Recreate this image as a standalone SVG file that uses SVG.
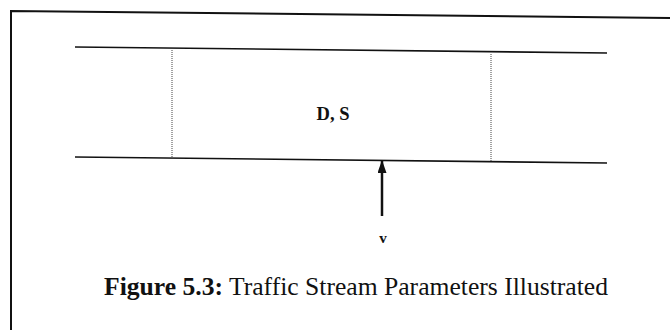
<svg xmlns="http://www.w3.org/2000/svg" width="670" height="330" viewBox="0 0 670 330">
<style>
.frame{fill:none;stroke:#111;stroke-width:2}
.road{stroke:#111;stroke-width:1.6;fill:none}
.dot{stroke:#444;stroke-width:1;stroke-dasharray:1 1;fill:none}
.t{font-family:'Liberation Serif','Times New Roman',Times,serif;fill:#111}
</style>
<defs>
<marker id="ah" markerWidth="13" markerHeight="9" refX="12" refY="4.5" orient="auto" markerUnits="userSpaceOnUse" viewBox="0 0 13 9">
<path d="M0,0 L13,4.5 L0,9 Z" fill="#111"/>
</marker>
</defs>
<rect width="670" height="330" fill="#fff"/>
<g id="frame">
<path class="frame" d="M11,340 L11,11 L670,18"/>
</g>
<g id="road">
<line class="road" x1="75" y1="47" x2="607" y2="53"/>
<line class="road" x1="75" y1="157" x2="607" y2="163"/>
<line class="dot" x1="172" y1="50" x2="172" y2="157"/>
<line class="dot" x1="491" y1="54" x2="491" y2="161"/>
<text class="t" x="333" y="120" font-size="18" font-weight="bold" text-anchor="middle" textLength="33" lengthAdjust="spacingAndGlyphs">D, S</text>
</g>
<g id="connectors">
<line x1="382" y1="216" x2="382" y2="161" stroke="#111" stroke-width="2.5" marker-end="url(#ah)"/>
</g>
<g id="v-label">
<text class="t" x="383" y="243" font-size="15" font-weight="bold" text-anchor="middle">v</text>
</g>
<g id="caption">
<text class="t" x="104" y="295" font-size="26" textLength="504" lengthAdjust="spacingAndGlyphs"><tspan font-weight="bold">Figure 5.3:</tspan>  Traffic Stream Parameters Illustrated</text>
</g>
</svg>
